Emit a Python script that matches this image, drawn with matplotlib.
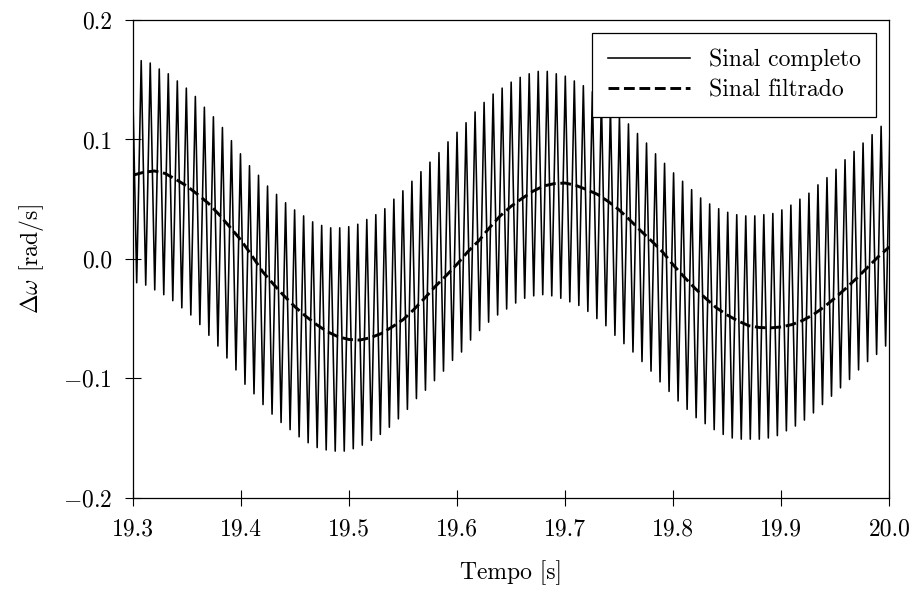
import matplotlib
matplotlib.use("Agg")
import matplotlib.pyplot as plt
import numpy as np

plt.rcParams['font.family'] = 'serif'
plt.rcParams['font.serif'] = ['cmr10']
plt.rcParams['mathtext.fontset'] = 'cm'
plt.rcParams['axes.unicode_minus'] = False

# sinal completo: valores de pico e de vale (alternados)
t_start = 19.2995
half_period = 0.004174
peaks = [0.167, 0.166, 0.164, 0.159, 0.155, 0.149, 0.143, 0.136, 0.127, 0.119,
         0.110, 0.099, 0.088, 0.078, 0.070, 0.061, 0.054, 0.047, 0.041, 0.036,
         0.031, 0.028, 0.026, 0.026, 0.027, 0.029, 0.033, 0.037, 0.042, 0.050,
         0.057, 0.065, 0.073, 0.081, 0.089, 0.098, 0.106, 0.114, 0.123, 0.131,
         0.138, 0.143, 0.148, 0.152, 0.155, 0.157, 0.157, 0.155, 0.153, 0.149,
         0.145, 0.140, 0.134, 0.127, 0.120, 0.113, 0.105, 0.097, 0.088, 0.080,
         0.072, 0.065, 0.058, 0.051, 0.046, 0.042, 0.039, 0.037, 0.036, 0.036,
         0.037, 0.038, 0.041, 0.045, 0.050, 0.055, 0.062, 0.068, 0.075, 0.083,
         0.090, 0.097, 0.104, 0.111, 0.117]
troughs = [-0.020, -0.022, -0.026, -0.030, -0.035, -0.041, -0.047, -0.055, -0.064, -0.073,
           -0.083, -0.093, -0.105, -0.113, -0.122, -0.130, -0.137, -0.143, -0.149, -0.154,
           -0.158, -0.160, -0.161, -0.161, -0.159, -0.156, -0.152, -0.147, -0.141, -0.134,
           -0.126, -0.117, -0.110, -0.102, -0.094, -0.085, -0.078, -0.068, -0.060, -0.053,
           -0.047, -0.042, -0.037, -0.033, -0.031, -0.030, -0.031, -0.033, -0.036, -0.039,
           -0.044, -0.050, -0.056, -0.064, -0.071, -0.078, -0.086, -0.094, -0.103, -0.111,
           -0.119, -0.126, -0.133, -0.138, -0.143, -0.147, -0.150, -0.151, -0.151, -0.151,
           -0.150, -0.148, -0.144, -0.140, -0.135, -0.129, -0.122, -0.115, -0.108, -0.101,
           -0.093, -0.086, -0.080, -0.073]

# sinal filtrado, amostrado a cada 0.01 s de 19.30 a 20.00
filtered = [0.0700, 0.0725, 0.0736, 0.0715, 0.0665, 0.0610, 0.0540, 0.0465, 0.0370, 0.0265,
            0.0159, 0.0030, -0.0105, -0.0210, -0.0310, -0.0400, -0.0480, -0.0550, -0.0610, -0.0652,
            -0.0675, -0.0680, -0.0660, -0.0625, -0.0570, -0.0510, -0.0425, -0.0330, -0.0230, -0.0140,
            -0.0045, 0.0060, 0.0150, 0.0260, 0.0360, 0.0440, 0.0505, 0.0565, 0.0610, 0.0630,
            0.0635, 0.0615, 0.0580, 0.0540, 0.0480, 0.0410, 0.0325, 0.0235, 0.0150, 0.0060,
            -0.0050, -0.0150, -0.0245, -0.0330, -0.0410, -0.0470, -0.0520, -0.0560, -0.0575, -0.0578,
            -0.0570, -0.0550, -0.0515, -0.0465, -0.0400, -0.0325, -0.0245, -0.0160, -0.0070, 0.0020,
            0.0100]

xticks = [19.3, 19.4, 19.5, 19.6, 19.7, 19.8, 19.9, 20.0]
xtick_labels = ['19.3', '19.4', '19.5', '19.6', '19.7', '19.8', '19.9', '20.0']
yticks = [-0.2, -0.1, 0.0, 0.1, 0.2]
ytick_labels = [r'$-0.2$', r'$-0.1$', '0.0', '0.1', '0.2']

full = np.empty(len(peaks) + len(troughs))
full[0::2] = peaks
full[1::2] = troughs
t_full = t_start + half_period * np.arange(len(full))
t_filt = np.linspace(19.3, 20.0, len(filtered))

fig = plt.figure(figsize=(9.16, 5.89), dpi=100)
ax = fig.add_axes([0.1449, 0.1550, 0.8260, 0.8110])

ax.plot(t_full, full, color='black', lw=1.15, label='Sinal completo')
ax.plot(t_filt, filtered, color='black', lw=2.1, ls='--', label='Sinal filtrado')

ax.set_xlim(19.3, 20.0)
ax.set_ylim(-0.2, 0.2)
ax.set_xticks(xticks)
ax.set_xticklabels(xtick_labels)
ax.set_yticks(yticks)
ax.set_yticklabels(ytick_labels)
ax.tick_params(direction='inout', length=12, width=0.8, labelsize=17, pad=9)
for s in ax.spines.values():
    s.set_linewidth(0.9)

ax.set_xlabel('Tempo [s]', fontsize=17, labelpad=14)
ax.set_ylabel(r'$\Delta\omega$ [rad/s]', fontsize=17, labelpad=12)

leg = ax.legend(loc='upper right', fontsize=17, fancybox=False, framealpha=1,
                edgecolor='black', handlelength=3.5, handletextpad=0.8,
                labelspacing=0.35, borderpad=0.65, borderaxespad=0.55)
leg.get_frame().set_linewidth(0.9)

fig.savefig('out.png', dpi=100)
